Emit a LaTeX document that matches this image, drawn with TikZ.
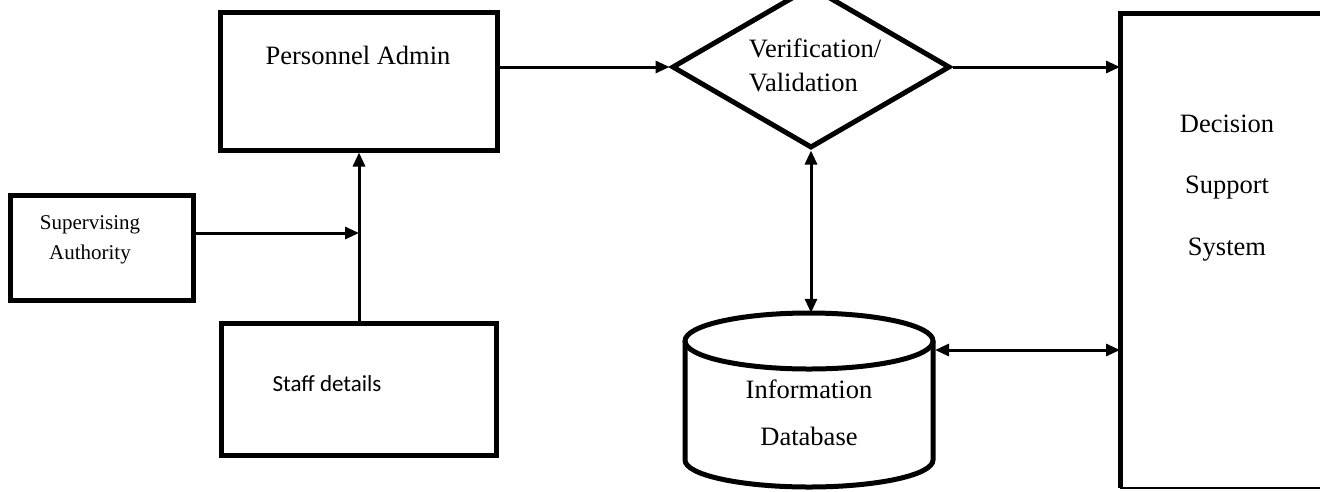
\documentclass[tikz,border=0pt]{standalone}
\usepackage{fontspec}
\setmainfont{Liberation Serif}
\newfontfamily\calfont{Carlito}
\usetikzlibrary{arrows.meta,shapes.geometric}
\begin{document}
\begin{tikzpicture}[x=1pt,y=1pt,
  box/.style={draw, line width=5pt, inner sep=0pt},
  conn/.style={line width=3pt, -{Triangle[length=14pt,width=12pt]}},
  dconn/.style={line width=3pt, {Triangle[length=14pt,width=12pt]}-{Triangle[length=14pt,width=12pt]}},
  big/.style={font=\fontsize{26.5pt}{34pt}\selectfont},
]
\useasboundingbox (0,0) rectangle (1320,-491);
\clip (0,0) rectangle (1320,-491);
\fill[white] (0,0) rectangle (1320,-491);

% boxes
\node[box, minimum width=277, minimum height=138] (pa) at (359,-81) {};
\node[big, anchor=center] (patxt) at (358,-55) {Personnel Admin};

\node[box, minimum width=183, minimum height=105] (sa) at (101.5,-247.5) {};
\node[align=center, font=\fontsize{21pt}{30pt}\selectfont] (satxt) at (90,-240) {Supervising\\Authority};

\node[box, minimum width=275, minimum height=132] (sd) at (359,-389) {};
\node[font=\calfont\fontsize{23pt}{28pt}\selectfont] (sdtxt) at (327,-384) {Staff details};

\node[draw, diamond, line width=5pt, inner sep=0pt, minimum width=278, minimum height=162] (vv) at (811,-67) {};
\node[big, align=left] (vvtxt) at (815,-65) {Verification/\\Validation};

% decision support system (extends past the right edge)
\node[inner sep=0pt, outer sep=2.5pt, minimum width=220, minimum height=470] (dss) at (1232.5,-250.5) {};
\draw[line width=5pt] (dss.north east) -- (dss.north west) -- (dss.south west);
\draw[line width=1.5pt] (dss.south west) -- (dss.south east);
\node[big, align=center, font=\fontsize{26.5pt}{61.5pt}\selectfont] (dsstxt) at (1227,-188) {Decision\\Support\\System};

% database cylinder
\node[minimum width=248, minimum height=174, inner sep=0pt] (db) at (809,-400) {};
\draw[line width=5pt] (809,-341) ellipse [x radius=124pt, y radius=28pt];
\draw[line width=5pt] (685,-341) -- (685,-460) arc[start angle=180, end angle=360, x radius=124pt, y radius=27pt] -- (933,-341);
\node[align=center, font=\fontsize{26.5pt}{47pt}\selectfont] (dbtxt) at (809,-413) {Information\\Database};
\coordinate (dbr) at (935,-350);

% connectors
\coordinate (j) at (sd.north |- 0,-233);
\draw[conn] (sd.north) -- (pa.south);
\draw[conn] (sa.east |- j) -- (j);
\draw[conn] (pa.east |- vv.west) -- (vv.west);
\draw[conn] (vv.east) -- (dss.west |- vv.east);
\draw[dconn] (vv.south) -- (vv.south |- db.north);
\draw[dconn] (dbr) -- (dss.west |- dbr);
\end{tikzpicture}
\end{document}
